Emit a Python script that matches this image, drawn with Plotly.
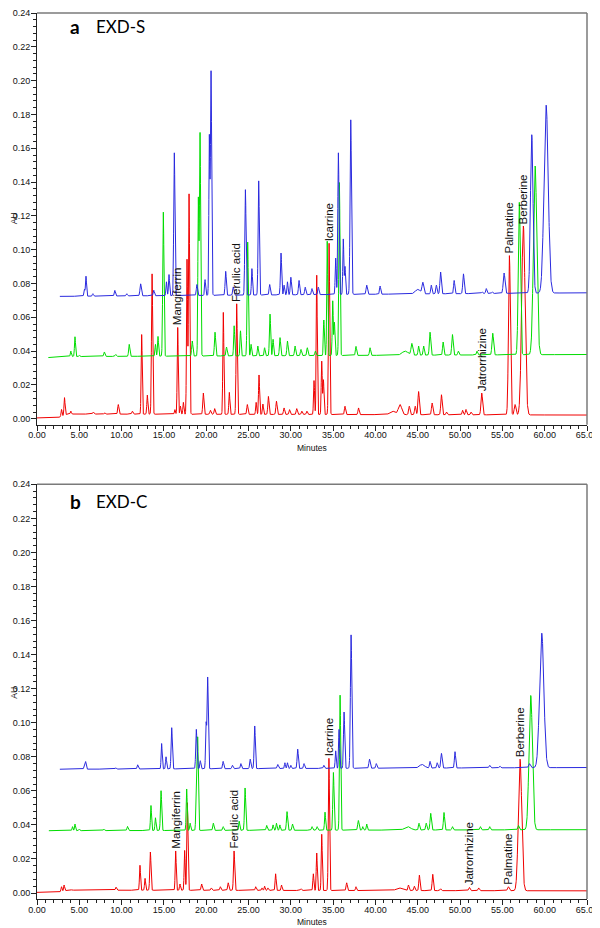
import numpy as np
import plotly.graph_objects as go

# Peaks: (retention time min, apex AU, peak sigma min)
A_RED = [(2.9, 0.0055, 0.06), (3.25, 0.0125, 0.06), (4.0, 0.0045, 0.05), (6.66, 0.004, 0.07),
         (8.0, 0.0035, 0.07), (9.61, 0.0084, 0.07), (11.27, 0.0045, 0.07), (12.37, 0.0498, 0.06),
         (13.04, 0.014, 0.06), (13.6, 0.0857, 0.07), (16.3, 0.0054, 0.06), (16.63, 0.054, 0.06),
         (16.95, 0.0075, 0.06), (17.3, 0.0097, 0.06), (17.73, 0.094, 0.06), (17.97, 0.133, 0.07),
         (19.66, 0.0152, 0.07), (20.5, 0.005, 0.07), (21.0, 0.006, 0.07), (22.02, 0.0629, 0.06),
         (22.73, 0.0156, 0.06), (23.6, 0.068, 0.07), (24.86, 0.0084, 0.07), (25.9, 0.0097, 0.06),
         (26.24, 0.0259, 0.06), (26.7, 0.0087, 0.06), (27.35, 0.0132, 0.07), (28.3, 0.0104, 0.07),
         (29.2, 0.0064, 0.07), (29.85, 0.0054, 0.07), (30.7, 0.006, 0.07), (31.3, 0.0045, 0.07),
         (31.9, 0.0045, 0.07), (32.74, 0.0226, 0.06), (33.06, 0.0849, 0.06), (33.65, 0.034, 0.06),
         (33.85, 0.023, 0.06), (34.52, 0.1038, 0.07), (36.4, 0.0074, 0.07), (38.0, 0.0064, 0.07),
         (42.0, 0.0045, 0.3), (42.9, 0.0084, 0.2), (44.0, 0.0074, 0.08), (44.7, 0.0074, 0.08),
         (45.1, 0.0161, 0.08), (46.7, 0.0093, 0.08), (47.8, 0.0142, 0.08), (48.4, 0.004, 0.07),
         (50.3, 0.005, 0.07), (50.7, 0.0055, 0.07), (51.3, 0.004, 0.07), (52.56, 0.0152, 0.09),
         (55.83, 0.0965, 0.11), (56.5, 0.0084, 0.1), (57.48, 0.114, 0.2)]
A_GREEN = [(4.0, 0.040, 0.06), (4.49, 0.0485, 0.06), (5.0, 0.0375, 0.06), (7.96, 0.0395, 0.07),
           (9.3, 0.038, 0.07), (10.9, 0.044, 0.07), (14.0, 0.044, 0.06), (14.3, 0.0487, 0.06),
           (14.93, 0.1222, 0.07), (18.35, 0.046, 0.07), (19.07, 0.129, 0.06), (19.27, 0.169, 0.07),
           (21.04, 0.0512, 0.07), (22.4, 0.0424, 0.07), (23.3, 0.055, 0.06), (24.05, 0.052, 0.06),
           (24.9, 0.1045, 0.07), (25.3, 0.044, 0.06), (26.1, 0.043, 0.06), (26.9, 0.042, 0.06),
           (27.54, 0.0619, 0.07), (27.9, 0.047, 0.06), (28.72, 0.048, 0.07), (29.6, 0.046, 0.07),
           (30.5, 0.043, 0.07), (31.2, 0.041, 0.07), (31.95, 0.042, 0.07), (32.9, 0.040, 0.07),
           (33.9, 0.0584, 0.06), (34.3, 0.105, 0.06), (34.95, 0.0697, 0.06), (35.15, 0.057, 0.06),
           (35.74, 0.1397, 0.07), (37.7, 0.0428, 0.07), (39.36, 0.042, 0.07), (43.5, 0.040, 0.35),
           (44.3, 0.0444, 0.1), (45.1, 0.043, 0.07), (45.7, 0.043, 0.07), (46.45, 0.0512, 0.08),
           (48.0, 0.0454, 0.07), (49.1, 0.0498, 0.08), (49.8, 0.040, 0.07), (52.0, 0.040, 0.07),
           (53.86, 0.0506, 0.09), (57.0, 0.128, 0.12), (58.87, 0.1495, 0.2)]
A_BLUE = [(5.6, 0.0765, 0.06), (5.79, 0.0843, 0.06), (6.6, 0.074, 0.06), (9.2, 0.0759, 0.07),
          (10.6, 0.074, 0.07), (12.25, 0.0798, 0.08), (13.8, 0.076, 0.07), (15.3, 0.081, 0.06),
          (15.6, 0.0853, 0.06), (16.23, 0.1573, 0.07), (18.9, 0.0794, 0.07), (19.86, 0.0823, 0.06),
          (20.37, 0.166, 0.06), (20.57, 0.2055, 0.07), (22.3, 0.0872, 0.07), (23.2, 0.078, 0.07),
          (24.63, 0.1355, 0.07), (25.4, 0.0888, 0.06), (26.2, 0.1407, 0.07), (27.5, 0.0794, 0.07),
          (28.84, 0.098, 0.07), (29.2, 0.079, 0.06), (29.6, 0.081, 0.06), (30.0, 0.0837, 0.07),
          (30.97, 0.0818, 0.07), (31.7, 0.0778, 0.07), (32.5, 0.077, 0.07), (33.25, 0.0778, 0.07),
          (35.3, 0.095, 0.06), (35.62, 0.1573, 0.07), (36.2, 0.1063, 0.06), (36.4, 0.09, 0.06),
          (37.08, 0.1768, 0.08), (38.97, 0.079, 0.08), (40.55, 0.0785, 0.07), (45.0, 0.0765, 0.3),
          (45.6, 0.0804, 0.1), (46.6, 0.079, 0.07), (47.2, 0.079, 0.07), (47.7, 0.0868, 0.08),
          (49.3, 0.0818, 0.07), (50.4, 0.0857, 0.08), (52.6, 0.075, 0.07), (53.1, 0.077, 0.07),
          (53.8, 0.075, 0.07), (55.2, 0.0862, 0.1), (58.47, 0.168, 0.15), (60.17, 0.1855, 0.25)]

B_RED = [(2.9, 0.0037, 0.06), (3.2, 0.0047, 0.06), (4.0, 0.0022, 0.06), (6.6, 0.002, 0.07),
         (9.34, 0.0035, 0.07), (12.17, 0.0163, 0.06), (12.77, 0.0086, 0.06), (13.4, 0.0241, 0.07),
         (16.39, 0.0247, 0.06), (16.9, 0.0053, 0.06), (17.45, 0.025, 0.06), (17.77, 0.053, 0.07),
         (19.46, 0.0053, 0.07), (20.6, 0.003, 0.07), (21.67, 0.0037, 0.07), (22.6, 0.006, 0.07),
         (23.29, 0.0247, 0.07), (25.85, 0.0037, 0.07), (26.6, 0.003, 0.06), (26.9, 0.004, 0.06),
         (27.3, 0.003, 0.06), (28.2, 0.0113, 0.06), (28.9, 0.0047, 0.06), (31.2, 0.0025, 0.07),
         (32.66, 0.0113, 0.06), (33.06, 0.0235, 0.06), (33.65, 0.0345, 0.06), (34.5, 0.0791, 0.07),
         (36.6, 0.006, 0.07), (37.7, 0.0037, 0.06), (42.8, 0.003, 0.35), (43.9, 0.0047, 0.07),
         (44.6, 0.004, 0.07), (45.19, 0.0105, 0.07), (46.77, 0.011, 0.07), (47.7, 0.0025, 0.07),
         (51.1, 0.0033, 0.08), (52.2, 0.003, 0.08), (55.71, 0.0037, 0.1), (57.09, 0.0786, 0.2)]
B_GREEN = [(4.2, 0.039, 0.06), (4.49, 0.0405, 0.06), (5.0, 0.0375, 0.06), (7.9, 0.0375, 0.07),
           (10.7, 0.0391, 0.07), (13.47, 0.0514, 0.06), (14.0, 0.0442, 0.06), (14.66, 0.0601, 0.07),
           (17.69, 0.0611, 0.06), (18.1, 0.041, 0.06), (18.83, 0.063, 0.06), (18.99, 0.091, 0.07),
           (20.84, 0.041, 0.07), (22.0, 0.039, 0.07), (23.9, 0.0422, 0.06), (24.59, 0.0617, 0.07),
           (27.15, 0.0397, 0.07), (27.9, 0.040, 0.06), (28.3, 0.041, 0.06), (28.7, 0.040, 0.06),
           (29.55, 0.0478, 0.07), (30.2, 0.0405, 0.07), (32.5, 0.039, 0.07), (33.1, 0.039, 0.07),
           (34.04, 0.0475, 0.06), (35.03, 0.0708, 0.07), (35.82, 0.1162, 0.07), (37.98, 0.0426, 0.08),
           (38.5, 0.039, 0.06), (38.97, 0.0405, 0.06), (43.8, 0.039, 0.35), (45.15, 0.041, 0.07),
           (46.0, 0.041, 0.07), (46.53, 0.0468, 0.08), (48.1, 0.0473, 0.07), (49.1, 0.039, 0.07),
           (52.4, 0.039, 0.07), (53.5, 0.039, 0.07), (56.9, 0.0397, 0.08), (58.35, 0.116, 0.2)]
B_BLUE = [(5.6, 0.0753, 0.06), (5.75, 0.0771, 0.06), (9.3, 0.0735, 0.07), (11.9, 0.0753, 0.07),
          (14.73, 0.0878, 0.06), (15.25, 0.080, 0.06), (15.92, 0.0971, 0.07), (18.83, 0.0961, 0.07),
          (19.3, 0.0777, 0.06), (19.98, 0.099, 0.06), (20.17, 0.1267, 0.07), (22.0, 0.0773, 0.07),
          (23.1, 0.075, 0.07), (24.1, 0.076, 0.07), (25.2, 0.0786, 0.07), (25.73, 0.0981, 0.07),
          (28.45, 0.0755, 0.08), (29.3, 0.0765, 0.06), (29.6, 0.0765, 0.06), (30.0, 0.075, 0.06),
          (30.81, 0.0845, 0.07), (31.56, 0.076, 0.07), (33.9, 0.075, 0.07), (35.3, 0.0835, 0.06),
          (35.7, 0.0961, 0.06), (36.29, 0.1063, 0.07), (37.12, 0.1516, 0.08), (39.3, 0.0786, 0.08),
          (40.1, 0.076, 0.07), (45.5, 0.0755, 0.3), (46.45, 0.0773, 0.07), (47.3, 0.0765, 0.07),
          (47.8, 0.082, 0.08), (49.4, 0.083, 0.07), (53.5, 0.075, 0.08), (54.7, 0.0745, 0.08),
          (58.2, 0.076, 0.1), (59.65, 0.1526, 0.25)]

# Baselines: (time, AU) knots; each trace starts at its first knot
A_RED_BASE = [(0, 0.0005), (2.6, 0.0008), (3.6, 0.0028), (65, 0.0022)]
A_GREEN_BASE = [(1.34, 0.0362), (4.0, 0.0368), (65, 0.038)]
A_BLUE_BASE = [(2.7, 0.0724), (65, 0.0745)]
B_RED_BASE = [(0, 0.0004), (2.6, 0.0006), (3.6, 0.0017), (65, 0.0013)]
B_GREEN_BASE = [(1.4, 0.0366), (65, 0.0372)]
B_BLUE_BASE = [(2.7, 0.0727), (65, 0.0737)]

# Labelled compounds (on the red trace)
COMPOUNDS = ["Mangiferrin", "Ferulic acid", "Icarrine", "Jatrorrhizine", "Palmatine", "Berberine"]
A_LABEL_RT = [16.63, 23.6, 34.52, 52.56, 55.83, 57.48]
A_LABEL_AU = [0.054, 0.068, 0.1038, 0.0152, 0.0965, 0.114]
B_LABEL_RT = [16.39, 23.29, 34.5, 51.1, 55.71, 57.09]
B_LABEL_AU = [0.0247, 0.0247, 0.0791, 0.0033, 0.0037, 0.0786]

X_TICKS = list(range(0, 70, 5))
Y_TICKS = [round(0.02 * i, 2) for i in range(13)]

# the page puts the figure 8px in from the top-left corner of the window
OFF = 8
W, H = 600 - OFF, 928 - OFF
L, R, T, B = 37 - OFF, 13, 0, 29


def chromatogram(peaks, base):
    bt = [k[0] for k in base]
    bv = [k[1] for k in base]
    t = np.arange(bt[0], 65.0001, 0.01)
    y = np.interp(t, bt, bv)
    for rt, apex, s in peaks:
        amp = apex - np.interp(rt, bt, bv)
        y = y + amp * np.exp(-0.5 * ((t - rt) / s) ** 2)
    return t, y


# window pixel -> paper fraction
def px(x):
    return (x - OFF - L) / (W - L - R)


def py(y):
    return (H - B - (y - OFF)) / (H - T - B)


fig = go.Figure()
panels = [
    ("x", "y", [(A_RED, A_RED_BASE, "#f00000"), (A_GREEN, A_GREEN_BASE, "#00dc00"), (A_BLUE, A_BLUE_BASE, "#2a2ade")]),
    ("x2", "y2", [(B_RED, B_RED_BASE, "#f00000"), (B_GREEN, B_GREEN_BASE, "#00dc00"), (B_BLUE, B_BLUE_BASE, "#2a2ade")]),
]
for xa, ya, series in panels:
    for peaks, base, col in series:
        t, y = chromatogram(peaks, base)
        fig.add_trace(go.Scatter(x=t, y=y, mode="lines", line=dict(color=col, width=1),
                                 xaxis=xa, yaxis=ya, showlegend=False, hoverinfo="skip"))

font = "Liberation Sans, Arial, sans-serif"
axis_common = dict(showgrid=False, zeroline=False, showline=True, linecolor="#222", linewidth=1,
                   ticks="outside", ticklen=5, tickwidth=1, tickcolor="#222",
                   tickfont=dict(size=9, family=font, color="#111"))
xcfg = dict(axis_common, range=[0, 65], tickvals=X_TICKS, tickformat=".2f", ticklabelstandoff=-3,
            ticklabeloverflow="allow",
            minor=dict(dtick=1, tick0=0, ticks="outside", ticklen=3, tickcolor="#222", showgrid=False))
ycfg = dict(axis_common, range=[-0.0035, 0.24], tickvals=Y_TICKS, tickformat=".2f", ticklabelstandoff=-1,
            minor=dict(dtick=0.004, tick0=0, ticks="outside", ticklen=3, tickcolor="#222", showgrid=False))

# plot areas in window pixels
top_a, bot_a = 8, 422
top_b, bot_b = 482, 899
fig.update_layout(
    width=W, height=H, margin=dict(l=L, r=R, t=T, b=B),
    paper_bgcolor="white", plot_bgcolor="white",
    xaxis=dict(xcfg, domain=[0, 1], anchor="y"),
    yaxis=dict(ycfg, domain=[py(bot_a), py(top_a)], anchor="x"),
    xaxis2=dict(xcfg, domain=[0, 1], anchor="y2"),
    yaxis2=dict(ycfg, domain=[py(bot_b), py(top_b)], anchor="x2"),
)

# grey top and right frame lines
for top, bot in [(top_a, bot_a), (top_b, bot_b)]:
    fig.add_shape(type="line", xref="paper", yref="paper", x0=0, x1=1, y0=py(top), y1=py(top),
                  line=dict(color="#7a7a7a", width=1.5))
    fig.add_shape(type="line", xref="paper", yref="paper", x0=1, x1=1, y0=py(bot), y1=py(top),
                  line=dict(color="#7a7a7a", width=1.5))

# compound labels
for xa, ya, rts, aus in [("x", "y", A_LABEL_RT, A_LABEL_AU), ("x2", "y2", B_LABEL_RT, B_LABEL_AU)]:
    for name, rt, au in zip(COMPOUNDS, rts, aus):
        fig.add_annotation(x=rt, y=au, xref=xa, yref=ya, text=name, textangle=-90,
                           showarrow=False, xanchor="center", yanchor="bottom",
                           font=dict(size=11.5, family=font, color="#111"))

# panel titles, axis titles
for letter, name, top, bot in [("a", "EXD-S", 5, bot_a), ("b", "EXD-C", top_b, bot_b)]:
    fig.add_annotation(x=px(68), y=py(top + 17), xref="paper", yref="paper", text="<b>" + letter + "</b>",
                       showarrow=False, xanchor="left", yanchor="middle",
                       font=dict(size=19, family="Lato, sans-serif", color="#000"))
    fig.add_annotation(x=px(94), y=py(top + 17), xref="paper", yref="paper", text=name,
                       showarrow=False, xanchor="left", yanchor="middle",
                       font=dict(size=17, family="Lato, sans-serif", color="#000"))
    fig.add_annotation(x=px(OFF), y=py((top + bot) / 2 + 1), xref="paper", yref="paper", text="AU",
                       textangle=-90, showarrow=False, xanchor="left", yanchor="middle", borderpad=0,
                       font=dict(size=8.5, family=font, color="#111"))
    fig.add_annotation(x=px(312), y=py(bot + 23), xref="paper", yref="paper", text="Minutes",
                       showarrow=False, xanchor="center", yanchor="middle",
                       font=dict(size=8.5, family=font, color="#111"))

fig.write_html("out.html")
